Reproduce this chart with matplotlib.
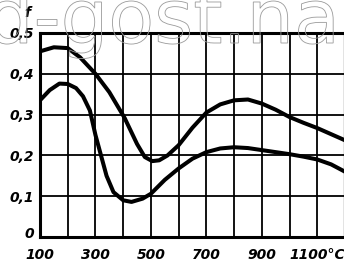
import numpy as np
import matplotlib.pyplot as plt
import matplotlib.patheffects as pe
from matplotlib.transforms import offset_copy

# temperature, degC
temp_upper = [100, 150, 200, 245, 300, 350, 405, 450, 478, 505, 530, 560, 600, 650,
              700, 750, 800, 850, 900, 950, 1000, 1050, 1100, 1150, 1200]
f_upper = [0.455, 0.465, 0.463, 0.44, 0.40, 0.355, 0.292, 0.228, 0.196, 0.186, 0.188,
           0.20, 0.225, 0.268, 0.305, 0.325, 0.335, 0.337, 0.327, 0.312, 0.294, 0.28,
           0.267, 0.252, 0.237]

temp_lower = [100, 135, 170, 200, 230, 255, 280, 300, 320, 340, 365, 400, 430, 470,
              500, 550, 600, 650, 700, 750, 800, 850, 900, 950, 1000, 1050, 1100,
              1150, 1200]
f_lower = [0.335, 0.36, 0.376, 0.375, 0.365, 0.345, 0.31, 0.25, 0.20, 0.15, 0.11,
           0.09, 0.086, 0.094, 0.106, 0.14, 0.168, 0.192, 0.208, 0.217, 0.22, 0.218,
           0.213, 0.208, 0.203, 0.197, 0.19, 0.178, 0.16]

x_ticks = [100, 300, 500, 700, 900, 1100]
x_labels = ['100', '300', '500', '700', '900', '1100°C']
y_ticks = [0, 0.1, 0.2, 0.3, 0.4, 0.5]
y_labels = ['0', '0,1', '0,2', '0,3', '0,4', '0,5']

lab_font = ['Liberation Sans Narrow', 'DejaVu Sans']

fig = plt.figure(figsize=(3.44, 2.68), dpi=100)
ax = fig.add_axes([40 / 344, 31 / 268, 305 / 344, 204 / 268])

ax.plot(temp_upper, f_upper, color='black', lw=2.9, solid_capstyle='round',
        solid_joinstyle='round', zorder=3)
ax.plot(temp_lower, f_lower, color='black', lw=2.9, solid_capstyle='round',
        solid_joinstyle='round', zorder=3)

ax.set_xlim(100, 1200)
ax.set_ylim(0, 0.5)
ax.set_xticks(np.arange(100, 1201, 100), minor=True)
ax.set_xticks(x_ticks)
ax.set_xticklabels(x_labels, fontsize=10, style='italic', weight='bold', family=lab_font)
ax.set_yticks(y_ticks)
ax.set_yticklabels(y_labels, fontsize=10, style='italic', weight='bold', family=lab_font)
ax.tick_params(axis='x', which='both', length=0, pad=8)
ax.tick_params(axis='y', which='both', length=0, pad=4)
ax.grid(True, which='both', color='black', lw=1.3)

# the "0" sits a little above the axis line
zero_lab = ax.get_yticklabels()[0]
zero_lab.set_transform(offset_copy(zero_lab.get_transform(), fig=fig, y=4, units='dots'))

for side in ['left', 'bottom', 'top']:
    ax.spines[side].set_linewidth(2.2)
ax.spines['right'].set_linewidth(1.6)

fig.text(27 / 344, 1 - 13 / 268, 'f', fontsize=10, style='italic', weight='bold',
         family=lab_font, ha='center', va='center')

# watermark, outline only
wm = fig.text(-14 / 344, 1 - 43 / 268, 'd-gost.na', fontsize=54, family='DejaVu Sans',
              ha='left', va='baseline', zorder=10)
wm.set_path_effects([pe.PathPatchEffect(edgecolor='#9a9a9a', facecolor='none',
                                        linewidth=0.6)])

fig.savefig('out.png', dpi=100)
